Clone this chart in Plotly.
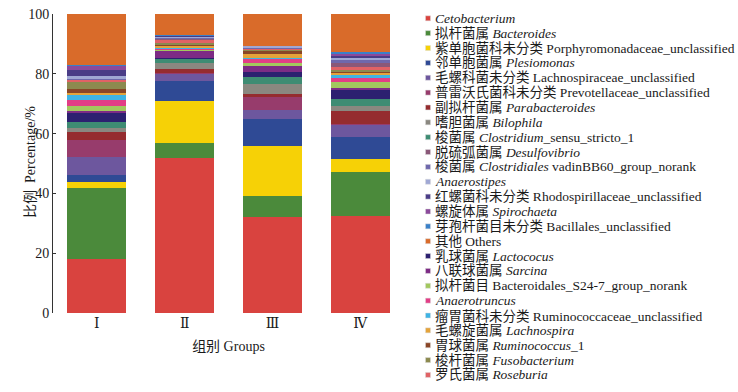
import plotly.graph_objects as go

groups = ["Ⅰ", "Ⅱ", "Ⅲ", "Ⅳ"]

# legend labels (legend order)
labels = [
    "<i>Cetobacterium</i>",
    "拟杆菌属 <i>Bacteroides</i>",
    "紫单胞菌科未分类 Porphyromonadaceae_unclassified",
    "邻单胞菌属 <i>Plesiomonas</i>",
    "毛螺科菌未分类 Lachnospiraceae_unclassified",
    "普雷沃氏菌科未分类 Prevotellaceae_unclassified",
    "副拟杆菌属 <i>Parabacteroides</i>",
    "嗜胆菌属 <i>Bilophila</i>",
    "梭菌属 <i>Clostridium</i>_sensu_stricto_1",
    "脱硫弧菌属 <i>Desulfovibrio</i>",
    "梭菌属 <i>Clostridiales</i> vadinBB60_group_norank",
    "<i>Anaerostipes</i>",
    "红螺菌科未分类 Rhodospirillaceae_unclassified",
    "螺旋体属 <i>Spirochaeta</i>",
    "芽孢杆菌目未分类 Bacillales_unclassified",
    "其他 Others",
    "乳球菌属 <i>Lactococus</i>",
    "八联球菌属 <i>Sarcina</i>",
    "拟杆菌目 Bacteroidales_S24-7_group_norank",
    "<i>Anaerotruncus</i>",
    "瘤胃菌科未分类 Ruminococcaceae_unclassified",
    "毛螺旋菌属 <i>Lachnospira</i>",
    "胃球菌属 <i>Ruminococcus</i>_1",
    "梭杆菌属 <i>Fusobacterium</i>",
    "罗氏菌属 <i>Roseburia</i>",
]

# percentages for groups I, II, III, IV
cetobacterium = [18.0, 51.9, 32.2, 32.6]
bacteroides = [23.9, 5.0, 7.0, 14.7]
porphyromonadaceae = [1.9, 14.1, 16.5, 4.2]
plesiomonas = [2.2, 6.7, 9.2, 7.4]
lachnospiraceae = [6.2, 2.4, 3.1, 4.1]
prevotellaceae = [5.5, 0.3, 4.3, 0.3]
parabacteroides = [2.7, 1.2, 1.1, 4.1]
bilophila = [1.5, 2.1, 3.3, 1.7]
clostridium = [1.9, 1.3, 2.3, 2.5]
desulfovibrio = [0.1, 0.2, 0.1, 1.6]
vadinbb60 = [0.2, 0.3, 0.2, 0.6]
anaerostipes = [1.0, 0.6, 0.4, 1.1]
rhodospirillaceae = [1.8, 0.1, 0.0, 0.6]
spirochaeta = [1.5, 0.1, 0.0, 0.6]
bacillales = [0.4, 0.1, 0.0, 0.4]
others = [16.9, 7.1, 10.8, 12.8]
lactococus = [3.1, 0.4, 1.5, 2.9]
sarcina = [0.8, 2.4, 2.2, 0.8]
s24_7 = [1.6, 0.2, 1.0, 1.9]
anaerotruncus = [2.1, 0.4, 1.3, 1.4]
ruminococcaceae = [1.4, 0.5, 0.3, 1.1]
lachnospira = [0.8, 0.4, 1.4, 0.8]
ruminococcus_1 = [1.4, 0.4, 1.2, 0.3]
fusobacterium = [2.2, 0.6, 0.3, 0.5]
roseburia = [0.9, 1.2, 0.3, 1.0]

series = [cetobacterium, bacteroides, porphyromonadaceae, plesiomonas, lachnospiraceae,
          prevotellaceae, parabacteroides, bilophila, clostridium, desulfovibrio, vadinbb60,
          anaerostipes, rhodospirillaceae, spirochaeta, bacillales, others, lactococus, sarcina,
          s24_7, anaerotruncus, ruminococcaceae, lachnospira, ruminococcus_1, fusobacterium,
          roseburia]

colors = ["#d9433f", "#4b8a3b", "#f6d106", "#2f4a95", "#6d579e", "#973c6c", "#952c2f",
          "#8a8880", "#3e8c73", "#8a5878", "#6e68ac", "#a0a8d4", "#4a3d87", "#8b4a9b",
          "#3a80c8", "#d96b2a", "#2c2070", "#7d2b85", "#a2c85e", "#e23e86", "#3fb3e4",
          "#e4a33a", "#8a4627", "#8c8a4f", "#e06265"]

# stacking order (bottom to top), indices into legend order
stack_order = [0, 1, 2, 3, 4, 5, 6, 7, 8, 16, 17, 18, 19, 20, 21, 22, 23, 24,
               9, 10, 11, 12, 13, 14, 15]

W, H = 738, 392
ML, MR, MT, MB = 53, 334, 14, 79
PW, PH = W - ML - MR, H - MT - MB
LEG_TOP, LEG_STEP = 18.3, 14.86

fig = go.Figure()
for i in stack_order:
    fig.add_bar(x=groups, y=series[i], name=labels[i], marker_color=colors[i],
                marker_line_width=0, showlegend=False)

serif = "Liberation Serif, DejaVu Serif, Noto Sans CJK SC, serif"

def px_x(px):
    return (px - ML) / PW

def px_y(py):
    return (H - MB - py) / PH

shapes = []
annotations = []
for i, lab in enumerate(labels):
    yc = LEG_TOP + i * LEG_STEP
    shapes.append(dict(type="rect", xref="paper", yref="paper",
                       x0=px_x(425.5), x1=px_x(430.5), y0=px_y(yc + 2.5), y1=px_y(yc - 2.5),
                       fillcolor=colors[i], line=dict(width=0.5, color="#dddddd")))
    annotations.append(dict(xref="paper", yref="paper", x=px_x(433), y=px_y(yc),
                            xanchor="left", yanchor="middle", showarrow=False, text=lab,
                            font=dict(family=serif, size=13.5, color="#1a1a1a")))

# y-axis title
annotations.append(dict(xref="paper", yref="paper", x=px_x(30), y=px_y(162),
                        xanchor="center", yanchor="middle", showarrow=False, textangle=-90,
                        text="比例  Percentage/%",
                        font=dict(family=serif, size=14, color="#1a1a1a")))

fig.update_layout(
    width=W, height=H,
    margin=dict(l=ML, r=MR, t=MT, b=MB, autoexpand=False),
    barmode="stack", bargap=0.33,
    plot_bgcolor="white", paper_bgcolor="white",
    font=dict(family=serif, color="#1a1a1a"),
    shapes=shapes, annotations=annotations,
    xaxis=dict(range=[-0.5, 3.5], showline=False, ticks="", showgrid=False,
               automargin=False,
               tickfont=dict(family=serif, size=14),
               title=dict(text="组别 Groups", font=dict(family=serif, size=14), standoff=11)),
    yaxis=dict(range=[0, 100], tickvals=[0, 20, 40, 60, 80, 100], showline=True,
               linecolor="#333333", linewidth=1, ticks="inside", ticklen=3,
               tickcolor="#333333", showgrid=False, zeroline=False, automargin=False,
               tickfont=dict(family=serif, size=14)),
)

fig.write_html("out.html", config={"displayModeBar": False},
               post_script="document.body.style.margin='0';document.body.style.overflow='hidden';")
